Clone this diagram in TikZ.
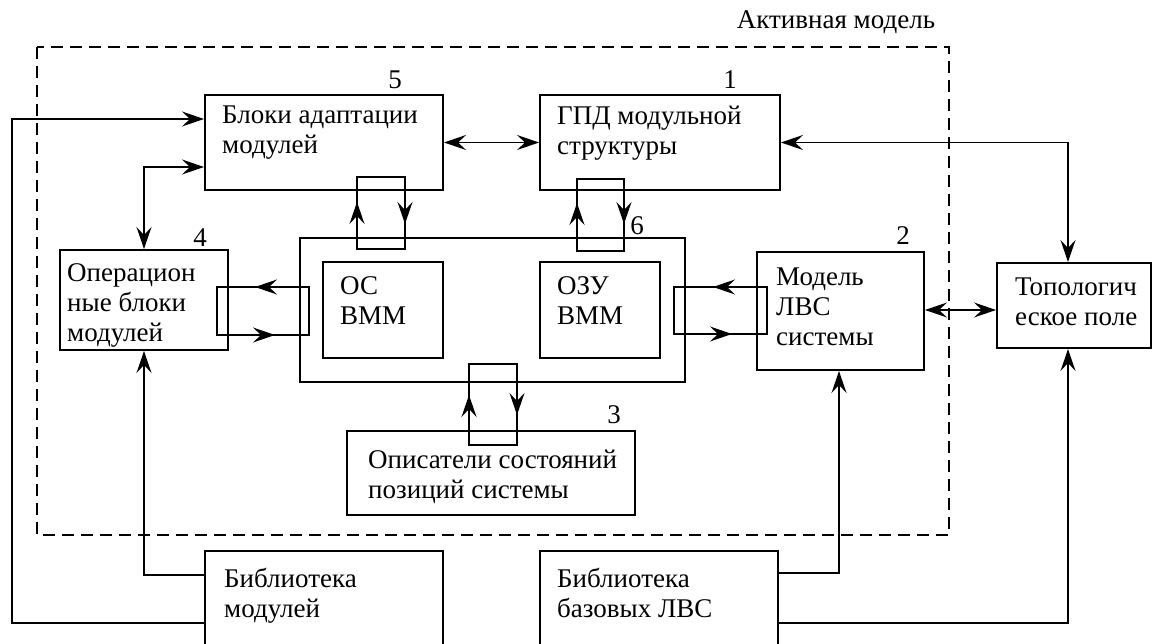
\documentclass[tikz,border=0pt]{standalone}
\usepackage{fontspec}
\setmainfont{Liberation Serif}
\usetikzlibrary{arrows.meta}
\tikzset{
  box/.style={draw, line width=2pt, inner sep=0pt},
  lbl/.style={font=\fontsize{27}{30}\selectfont, align=left, inner sep=0pt, anchor=north west},
  num/.style={font=\fontsize{27}{30}\selectfont, inner sep=0pt},
  con/.style={line width=1.5pt},
  tipa/.tip={Stealth[length=22pt,width=15pt,inset=8pt]},
  arr/.style={-tipa},
  darr/.style={tipa-tipa},
  dashbox/.style={line width=1.5pt, dash pattern=on 12pt off 7pt},
}
\begin{document}
\begin{tikzpicture}[x=1pt,y=-1pt]
\useasboundingbox (0,0) rectangle (1154,644);
\clip (0,0) rectangle (1154,644);
% dashed frame
\draw[dashbox] (37,47) rectangle (949,535);
\node[num] (tact) at (836,22) {Активная модель};
% boxes
\node[box, minimum width=238pt, minimum height=95pt] (b5) at (324,142.5) {};
\node[box, minimum width=240pt, minimum height=95pt] (b1) at (660,142.5) {};
\node[box, minimum width=385pt, minimum height=144pt] (b6) at (492.5,310) {};
\node[box, minimum width=120pt, minimum height=96pt] (os) at (383,310) {};
\node[box, minimum width=120pt, minimum height=96pt] (ozu) at (600,310) {};
\node[box, minimum width=168pt, minimum height=100pt] (b4) at (144,300) {};
\node[box, minimum width=167pt, minimum height=118pt] (b2) at (840.5,311) {};
\node[box, minimum width=154pt, minimum height=85pt] (topo) at (1074,305.5) {};
\node[box, minimum width=288pt, minimum height=84pt] (b3) at (491,473) {};
\node[box, minimum width=238pt, minimum height=109pt] (libm) at (324,605.5) {};
\node[box, minimum width=238pt, minimum height=109pt] (libl) at (659,605.5) {};
% texts
\node[lbl] (t5) at (222,106) {Блоки адаптации\\модулей};
\node[lbl] (t1) at (557,106) {ГПД модульной\\структуры};
\node[lbl] (t4) at (67,263) {Операцион\\ные блоки\\модулей};
\node[lbl] (tos) at (340,276) {ОС\\ВММ};
\node[lbl] (tozu) at (557,276) {ОЗУ\\ВММ};
\node[lbl] (t2) at (776,268) {Модель\\ЛВС\\системы};
\node[lbl] (ttopo) at (1015,278) {Топологич\\еское поле};
\node[lbl] (t3) at (368,450) {Описатели состояний\\позиций системы};
\node[lbl] (tlm) at (224,568) {Библиотека\\модулей};
\node[lbl] (tll) at (557,568) {Библиотека\\базовых ЛВС};
% numbers
\node[num] (n5) at (395,80) {5};
\node[num] (n1) at (730,80) {1};
\node[num] (n6) at (637,226) {6};
\node[num] (n4) at (200,238) {4};
\node[num] (n2) at (903,236) {2};
\node[num] (n3) at (614,415) {3};
% connectors
\draw[con,arr] (libm.west |- 0,623) -| (12,119) -- (b5.west |- 0,119);
\draw[con,arr] (libm.west |- 0,575) -| (b4.south);
\draw[con,darr] (b4.north) |- (b5.west |- 0,167);
\draw[con,darr] (b5.east) -- (b1.west);
\draw[con,darr] (b1.east) -| (topo.north -| 1068,0);
\draw[con,darr] (b2.east |- 0,310) -- (topo.west |- 0,310);
\draw[con,arr] (libl.east |- 0,573) -| (b2.south -| 839,0);
\draw[con,arr] (libl.east |- 0,623) -| (topo.south -| 1068,0);
% loops
\draw[con] (357,177) rectangle (405,249);
\draw[con,arr] (357,230) -- (357,202);
\draw[con,arr] (405,196) -- (405,224);
\draw[con] (577,179) rectangle (624,251);
\draw[con,arr] (577,231) -- (577,203);
\draw[con,arr] (624,196) -- (624,224);
\draw[con] (217,287) rectangle (309,335);
\draw[con,arr] (283,287) -- (255,287);
\draw[con,arr] (247,335) -- (275,335);
\draw[con] (674,287) rectangle (767,334);
\draw[con,arr] (741,287) -- (713,287);
\draw[con,arr] (704,334) -- (732,334);
\draw[con] (469,364) rectangle (517,445);
\draw[con,arr] (469,423) -- (469,395);
\draw[con,arr] (517,387) -- (517,415);
\end{tikzpicture}
\end{document}
